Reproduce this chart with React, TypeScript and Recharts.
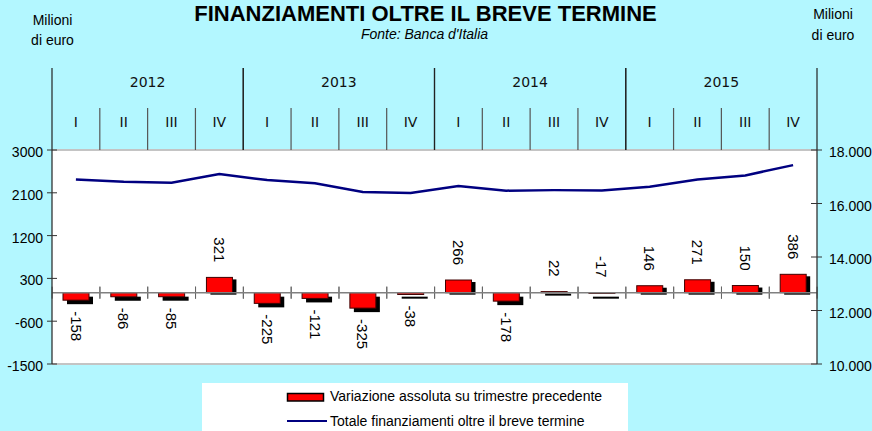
import React from 'react'
import {
  ComposedChart, Bar, Line, XAxis, YAxis, ReferenceLine, ReferenceArea, LabelList,
} from 'recharts'

// categories
const years = ['2012', '2013', '2014', '2015']
const quarters = ['I', 'II', 'III', 'IV']

// series (milioni di euro)
const variazione = [-158, -86, -85, 321, -225, -121, -325, -38, 266, -178, 22, -17, 146, 271, 150, 386]
const totale = [16900, 16815, 16780, 17100, 16875, 16755, 16430, 16390, 16655, 16480, 16500, 16485, 16630, 16900, 17050, 17435]

// tick labels
const leftTicks = [-1500, -600, 300, 1200, 2100, 3000]
const rightTicks = [10000, 12000, 14000, 16000, 18000]

const data = years.flatMap((y, i) =>
  quarters.map((q, j) => ({
    key: `${y}-${q}`,
    variazione: variazione[i * 4 + j],
    totale: totale[i * 4 + j],
  }))
)

const W = 872
const H = 431
const BG = '#B3F7FF'
const FONT = '"Liberation Sans", Arial, sans-serif'
const HALF_BAND = (817 - 52) / data.length / 2

const fmtThousands = (v: number) => String(v).replace(/\B(?=(\d{3})+(?!\d))/g, '.')

function HeaderTick({ x, y, payload }: any) {
  const [year, q] = String(payload.value).split('-')
  const half = payload.offset || HALF_BAND
  const left = x - half
  const right = x + half
  return (
    <g>
      {q !== 'IV' && <line x1={right} x2={right} y1={y - 42} y2={y} stroke="#555" strokeWidth={1.2} />}
      {q === 'I' && <line x1={left} x2={left} y1={y - 82} y2={y} stroke="#222" strokeWidth={1.2} />}
      {q === 'IV' && <line x1={right} x2={right} y1={y - 82} y2={y} stroke="#222" strokeWidth={1.2} />}
      <text x={x} y={y - 28} textAnchor="middle" dominantBaseline="central"
        fontFamily='"DejaVu Sans", sans-serif' fontSize={14} fill="#111">{q}</text>
      {q === 'I' && (
        <text x={left + 4 * half} y={y - 68} textAnchor="middle" dominantBaseline="central"
          fontFamily='"DejaVu Sans", sans-serif' fontSize={14} fill="#111">{year}</text>
      )}
    </g>
  )
}

function LeftTick({ x, y, payload }: any) {
  return (
    <g>
      <line x1={x - 5} x2={x + 5} y1={y} y2={y} stroke="#333" />
      <text x={x - 9} y={y + 2} textAnchor="end" dominantBaseline="central"
        fontFamily={FONT} fontSize={14} fill="#000">{payload.value}</text>
    </g>
  )
}

function RightTick({ x, y, payload }: any) {
  return (
    <g>
      <line x1={x - 6} x2={x + 5} y1={y} y2={y} stroke="#333" />
      <text x={x + 12} y={y + 2} textAnchor="start" dominantBaseline="central"
        fontFamily={FONT} fontSize={14} fill="#000">{fmtThousands(payload.value)}</text>
    </g>
  )
}

function ShadowBar(props: any) {
  const { x, y, width, height, payload } = props
  const top = Math.min(y, y + height)
  const h = Math.abs(height)
  const positive = payload.variazione >= 0
  const zero = positive ? top + h : top
  const cx = x + width / 2
  const dy = positive ? 2 : 4
  return (
    <g>
      <line x1={cx - HALF_BAND} x2={cx - HALF_BAND} y1={zero - 6} y2={zero + 6} stroke="#666" />
      <line x1={cx + HALF_BAND} x2={cx + HALF_BAND} y1={zero - 6} y2={zero + 6} stroke="#666" />
      <rect x={x + 4} y={top + dy} width={width} height={Math.max(h, 2)} fill="#000" />
      <rect x={x} y={top} width={width} height={h} fill="#FF0000" stroke="#400000" strokeWidth={1} />
    </g>
  )
}

function BarLabel(props: any) {
  const vb = props.viewBox || props
  const { x, y, width, height } = vb
  const value = props.value
  const top = Math.min(y, y + height)
  const bottom = Math.max(y, y + height)
  const cx = x + width / 2
  const above = value > -20
  const ay = above ? top - 15 : bottom + 11
  return (
    <text x={cx} y={ay} transform={`rotate(90, ${cx}, ${ay})`}
      textAnchor={above ? 'end' : 'start'} dominantBaseline="central"
      fontFamily={FONT} fontSize={15} fill="#000">{value}</text>
  )
}

export default function App() {
  return (
    <div style={{ position: 'absolute', left: 0, top: 0, width: W, height: H, background: BG, overflow: 'hidden' }}>
      <ComposedChart width={W} height={H} data={data}
        margin={{ top: 68, right: 0, bottom: 67, left: 0 }}>
        <XAxis dataKey="key" orientation="top" height={82} axisLine={false} tickLine={false}
          tickSize={0} tickMargin={0} interval={0} tick={(p: any) => <HeaderTick {...p} />} />
        <YAxis yAxisId="left" width={52} domain={[-1500, 3000]} ticks={leftTicks}
          axisLine={{ stroke: '#222', strokeWidth: 1.2 }} tickLine={false} tickSize={0} tickMargin={0}
          tick={(p: any) => <LeftTick {...p} />} />
        <YAxis yAxisId="right" orientation="right" width={55} domain={[10000, 18000]} ticks={rightTicks}
          axisLine={{ stroke: '#222', strokeWidth: 1.2 }} tickLine={false} tickSize={0} tickMargin={0}
          tick={(p: any) => <RightTick {...p} />} />
        <ReferenceArea yAxisId="left" y1={-1500} y2={3000} fill="#FFFFFF" fillOpacity={1} stroke="none" />
        <ReferenceLine yAxisId="left" y={3000} stroke="#C4C4C4" strokeWidth={2} />
        <ReferenceLine yAxisId="left" y={-1500} stroke="#C4C4C4" strokeWidth={2} />
        <ReferenceLine yAxisId="left" y={0} stroke="#808080" strokeWidth={1.5} />
        <Bar yAxisId="left" dataKey="variazione" barSize={26} shape={<ShadowBar />} isAnimationActive={false}>
          <LabelList dataKey="variazione" content={(p: any) => <BarLabel {...p} />} />
        </Bar>
        <Line yAxisId="right" type="linear" dataKey="totale" stroke="#000080" strokeWidth={2.5}
          dot={false} activeDot={false} isAnimationActive={false} />
      </ComposedChart>
      <svg width={W} height={H} style={{ position: 'absolute', left: 0, top: 0, pointerEvents: 'none' }}>
        <g fontFamily={FONT} fill="#000">
          <text x={425.5} y={20.5} textAnchor="middle" fontSize={22} fontWeight="bold">FINANZIAMENTI OLTRE IL BREVE TERMINE</text>
          <text x={424.5} y={39} textAnchor="middle" fontSize={14} fontStyle="italic">Fonte: Banca d'Italia</text>
          <text x={52.5} y={25} textAnchor="middle" fontSize={14}>Milioni</text>
          <text x={52.5} y={45} textAnchor="middle" fontSize={14}>di euro</text>
          <text x={833} y={19} textAnchor="middle" fontSize={14}>Milioni</text>
          <text x={833} y={40} textAnchor="middle" fontSize={14}>di euro</text>
          <rect x={202} y={383} width={426} height={48} fill="#FFFFFF" />
          <rect x={287.5} y={393.5} width={36} height={7.5} fill="#FF0000" stroke="#000" strokeWidth={1.5} />
          <text x={330} y={401} fontSize={14}>Variazione assoluta su trimestre precedente</text>
          <line x1={287} x2={327} y1={421} y2={421} stroke="#000080" strokeWidth={2} />
          <text x={330} y={425.5} fontSize={14}>Totale finanziamenti oltre il breve termine</text>
        </g>
      </svg>
    </div>
  )
}
